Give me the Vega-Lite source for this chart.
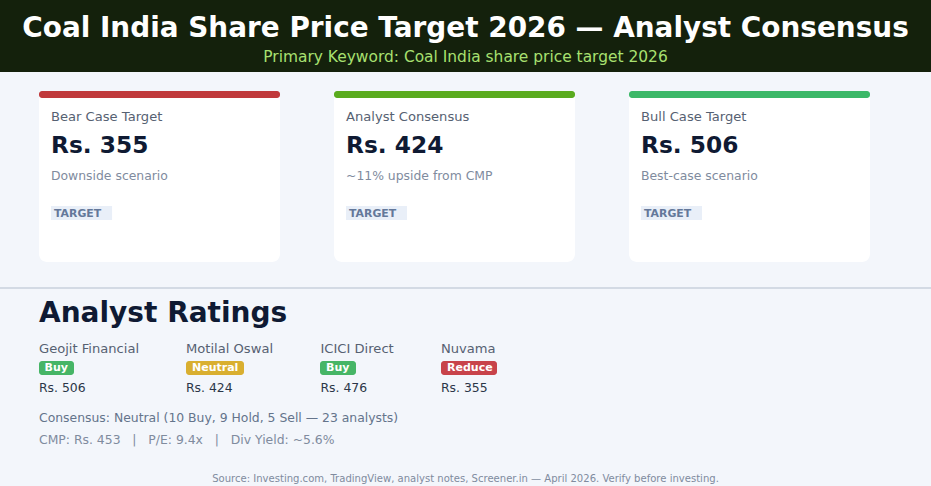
{"$schema":"https://vega.github.io/schema/vega-lite/v6.json","width":931,"height":486,"padding":0,"autosize":{"type":"none"},"background":"#f3f6fb","config":{"view":{"stroke":null},"text":{"font":"DejaVu Sans","baseline":"middle"},"axis":{"disable":true}},
"datasets":{
"header":[{"title":"Coal India Share Price Target 2026 — Analyst Consensus","subtitle":"Primary Keyword: Coal India share price target 2026","footer":"Source: Investing.com, TradingView, analyst notes, Screener.in — April 2026. Verify before investing.","section":"Analyst Ratings","consensus":"Consensus: Neutral (10 Buy, 9 Hold, 5 Sell — 23 analysts)","stats":"CMP: Rs. 453\u00a0\u00a0\u00a0|\u00a0\u00a0\u00a0P/E: 9.4x\u00a0\u00a0\u00a0|\u00a0\u00a0\u00a0Div Yield: ~5.6%"}],
"cards":[{"card":"Bear Case Target","column":0,"price":"Rs. 355","note":"Downside scenario","tag":"TARGET"},{"card":"Analyst Consensus","column":1,"price":"Rs. 424","note":"~11% upside from CMP","tag":"TARGET"},{"card":"Bull Case Target","column":2,"price":"Rs. 506","note":"Best-case scenario","tag":"TARGET"}],
"ratings":[{"analyst":"Geojit Financial","rating":"Buy","target":"Rs. 506","column":0,"columnEnd":0.5},{"analyst":"Motilal Oswal","rating":"Neutral","target":"Rs. 424","column":1,"columnEnd":1.5},{"analyst":"ICICI Direct","rating":"Buy","target":"Rs. 476","column":2,"columnEnd":2.5},{"analyst":"Nuvama","rating":"Reduce","target":"Rs. 355","column":3,"columnEnd":3.5}]},
"resolve":{"scale":{"x":"independent","y":"independent","color":"independent"}},
"layer":[
{"data":{"name":"header"},"mark":{"type":"rect","color":"#14210c"},"encoding":{"x":{"field":"title","type":"nominal","scale":{"type":"band","range":[0,931],"padding":0},"axis":null},"y":{"field":"title","type":"nominal","scale":{"type":"band","range":[0,72],"padding":0},"axis":null}}},
{"data":{"name":"header"},"mark":{"type":"rect","color":"#d3dae4"},"encoding":{"x":{"field":"section","type":"nominal","scale":{"type":"band","range":[0,931],"padding":0},"axis":null},"y":{"field":"section","type":"nominal","scale":{"type":"band","range":[287,289],"padding":0},"axis":null}}},
{"data":{"name":"cards"},"mark":{"type":"rect","color":"#ffffff","cornerRadius":8},"encoding":{"x":{"field":"card","type":"nominal","sort":null,"scale":{"type":"band","range":[39,870],"paddingInner":0.183,"paddingOuter":0},"axis":null},"y":{"field":"tag","type":"nominal","scale":{"type":"band","range":[92,262],"padding":0},"axis":null}}},
{"data":{"name":"cards"},"mark":{"type":"rect","cornerRadius":3},"encoding":{"x":{"field":"card","type":"nominal","sort":null,"scale":{"type":"band","range":[39,870],"paddingInner":0.183,"paddingOuter":0},"axis":null},"y":{"field":"tag","type":"nominal","scale":{"type":"band","range":[91,98],"padding":0},"axis":null},"color":{"field":"card","type":"nominal","legend":null,"scale":{"domain":["Bear Case Target","Analyst Consensus","Bull Case Target"],"range":["#c0393b","#5aab1e","#3cb868"]}}}},
{"data":{"name":"cards"},"mark":{"type":"rect","color":"#e9eff8"},"encoding":{"x":{"field":"card","type":"nominal","sort":null,"scale":{"type":"band","range":[51,702],"paddingInner":0.793,"paddingOuter":0},"axis":null},"y":{"field":"tag","type":"nominal","scale":{"type":"band","range":[206,220],"padding":0},"axis":null}}},
{"data":{"name":"ratings"},"mark":{"type":"rect","cornerRadius":3},"encoding":{"x":{"field":"column","type":"quantitative","scale":{"domain":[0,0.5,1,1.5,2,2.5,3,3.5],"range":[39,74,186,244,320,356,441,497]},"axis":null},"x2":{"field":"columnEnd"},"y":{"datum":"badge","type":"nominal","scale":{"type":"band","range":[361,375],"padding":0},"axis":null},"color":{"field":"rating","type":"nominal","legend":null,"scale":{"domain":["Buy","Neutral","Reduce"],"range":["#46b566","#d9af30","#c8434a"]}}}},
{"data":{"name":"header"},"mark":{"type":"text","fontSize":27.9,"fontWeight":"bold","color":"#ffffff","align":"center"},"encoding":{"text":{"field":"title"},"x":{"field":"title","type":"nominal","scale":{"type":"band","range":[0,931],"padding":0},"axis":null},"y":{"field":"title","type":"nominal","scale":{"type":"band","range":[28,30],"padding":0},"axis":null}}},
{"data":{"name":"header"},"mark":{"type":"text","fontSize":15.45,"color":"#a8e070","align":"center"},"encoding":{"text":{"field":"subtitle"},"x":{"field":"subtitle","type":"nominal","scale":{"type":"band","range":[0,931],"padding":0},"axis":null},"y":{"field":"subtitle","type":"nominal","scale":{"type":"band","range":[56,58],"padding":0},"axis":null}}},
{"data":{"name":"cards"},"mark":{"type":"text","fontSize":13.1,"color":"#566172","align":"left"},"encoding":{"text":{"field":"card"},"x":{"field":"column","type":"quantitative","scale":{"domain":[0,1,2],"range":[51,346,641]},"axis":null},"y":{"field":"tag","type":"nominal","scale":{"type":"band","range":[116,118],"padding":0},"axis":null}}},
{"data":{"name":"cards"},"mark":{"type":"text","fontSize":23.3,"fontWeight":"bold","color":"#0f1a33","align":"left"},"encoding":{"text":{"field":"price"},"x":{"field":"column","type":"quantitative","scale":{"domain":[0,1,2],"range":[51,346,641]},"axis":null},"y":{"field":"tag","type":"nominal","scale":{"type":"band","range":[145,147],"padding":0},"axis":null}}},
{"data":{"name":"cards"},"mark":{"type":"text","fontSize":12.4,"color":"#808b9e","align":"left"},"encoding":{"text":{"field":"note"},"x":{"field":"column","type":"quantitative","scale":{"domain":[0,1,2],"range":[51,346,641]},"axis":null},"y":{"field":"tag","type":"nominal","scale":{"type":"band","range":[175,177],"padding":0},"axis":null}}},
{"data":{"name":"cards"},"mark":{"type":"text","fontSize":10.9,"fontWeight":"bold","color":"#64789a","align":"left"},"encoding":{"text":{"field":"tag"},"x":{"field":"column","type":"quantitative","scale":{"domain":[0,1,2],"range":[54,349,644]},"axis":null},"y":{"field":"tag","type":"nominal","scale":{"type":"band","range":[213,215],"padding":0},"axis":null}}},
{"data":{"name":"header"},"mark":{"type":"text","fontSize":28,"fontWeight":"bold","color":"#0f1a33","align":"left"},"encoding":{"text":{"field":"section"},"x":{"field":"section","type":"nominal","scale":{"type":"point","range":[39,39],"padding":0},"axis":null},"y":{"field":"section","type":"nominal","scale":{"type":"band","range":[313,315],"padding":0},"axis":null}}},
{"data":{"name":"ratings"},"mark":{"type":"text","fontSize":13.1,"color":"#566172","align":"left"},"encoding":{"text":{"field":"analyst"},"x":{"field":"column","type":"quantitative","scale":{"domain":[0,1,2,3],"range":[39,186,320.5,441]},"axis":null},"y":{"datum":"name","type":"nominal","scale":{"type":"band","range":[348,350],"padding":0},"axis":null}}},
{"data":{"name":"ratings"},"mark":{"type":"text","fontSize":11,"fontWeight":"bold","color":"#ffffff","align":"left"},"encoding":{"text":{"field":"rating"},"x":{"field":"column","type":"quantitative","scale":{"domain":[0,1,2,3],"range":[44.5,192,326,447]},"axis":null},"y":{"datum":"badge","type":"nominal","scale":{"type":"band","range":[367,369],"padding":0},"axis":null}}},
{"data":{"name":"ratings"},"mark":{"type":"text","fontSize":12.4,"color":"#2b3648","align":"left"},"encoding":{"text":{"field":"target"},"x":{"field":"column","type":"quantitative","scale":{"domain":[0,1,2,3],"range":[39,186,320.5,441]},"axis":null},"y":{"datum":"target","type":"nominal","scale":{"type":"band","range":[387,389],"padding":0},"axis":null}}},
{"data":{"name":"header"},"mark":{"type":"text","fontSize":12.4,"color":"#64748b","align":"left"},"encoding":{"text":{"field":"consensus"},"x":{"field":"consensus","type":"nominal","scale":{"type":"point","range":[39,39],"padding":0},"axis":null},"y":{"field":"consensus","type":"nominal","scale":{"type":"band","range":[417,419],"padding":0},"axis":null}}},
{"data":{"name":"header"},"mark":{"type":"text","fontSize":12.4,"color":"#808b9e","align":"left"},"encoding":{"text":{"field":"stats"},"x":{"field":"stats","type":"nominal","scale":{"type":"point","range":[39,39],"padding":0},"axis":null},"y":{"field":"stats","type":"nominal","scale":{"type":"band","range":[439,441],"padding":0},"axis":null}}},
{"data":{"name":"header"},"mark":{"type":"text","fontSize":10.05,"color":"#808b9e","align":"center"},"encoding":{"text":{"field":"footer"},"x":{"field":"footer","type":"nominal","scale":{"type":"band","range":[0,931],"padding":0},"axis":null},"y":{"field":"footer","type":"nominal","scale":{"type":"band","range":[478,480],"padding":0},"axis":null}}}
]}
